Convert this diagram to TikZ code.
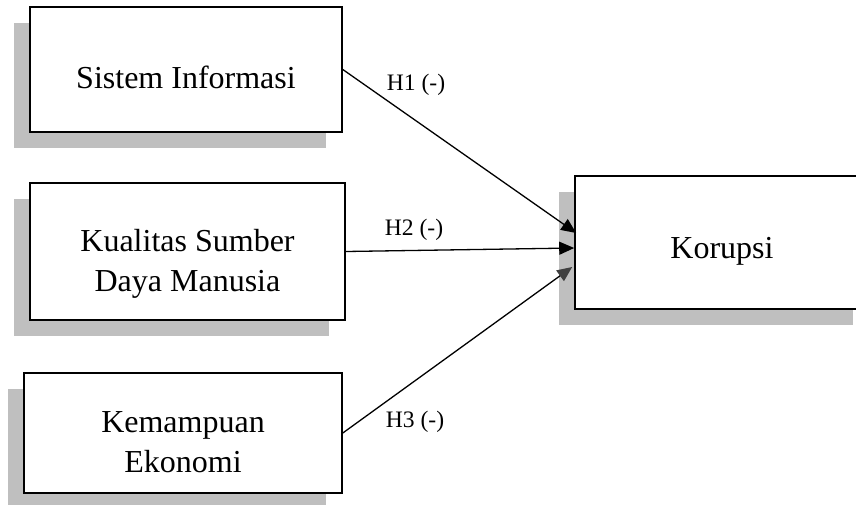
\documentclass[tikz,border=0pt]{standalone}
\usepackage{fontspec}
\setmainfont{Liberation Serif}
\usetikzlibrary{calc,arrows.meta,shadows}

\begin{document}
\begin{tikzpicture}[x=0.5pt,y=-0.5pt,
  var/.style={draw=black,line width=0.8pt,fill=white,inner sep=0pt,
    drop shadow={shadow xshift=-8pt,shadow yshift=-8pt,fill=black!25,opacity=1}},
  vartext/.style={align=center,font=\fontsize{16}{20}\selectfont,inner sep=0pt},
  hyp/.style={-{Triangle[length=7.5pt,width=6.5pt]},line width=0.65pt},
  lbl/.style={font=\fontsize{11.8}{14}\selectfont,inner sep=0pt}]

\useasboundingbox (0,0) rectangle (856,504);
\clip (0,0) rectangle (856,504);

% boxes
\node[var,minimum width=156pt,minimum height=62.5pt] (sisinfo) at (186,69.5) {};
\node[var,minimum width=157.5pt,minimum height=68.5pt] (sdm) at (187.5,251.5) {};
\node[var,minimum width=159pt,minimum height=60pt] (ekonomi) at (183,433) {};
\node[var,minimum width=147pt,minimum height=66.5pt] (korupsi) at (722,242.5) {};

% texts
\node[vartext] (sisinfo-t) at ($(sisinfo.center)+(0,8)$) {Sistem Informasi};
\node[vartext] (sdm-t) at ($(sdm.center)+(0,12)$) {Kualitas Sumber\\Daya Manusia};
\node[vartext] (ekonomi-t) at ($(ekonomi.center)+(0,9)$) {Kemampuan\\Ekonomi};
\node[vartext] (korupsi-t) at ($(korupsi.center)+(0,9)$) {Korupsi};

% hypotheses
\draw[hyp] (sisinfo.east) -- ($(korupsi.west)+(2,-9.5)$);
\draw[hyp] (sdm.east) -- ($(korupsi.west)+(0,5.5)$);
\draw[hyp,-{Triangle[length=7.5pt,width=6.5pt,color=black!75]}] (ekonomi.east) -- ($(korupsi.west)+(-2,24.5)$);

\node[lbl] (h1) at (416,85) {H1 (-)};
\node[lbl] (h2) at (414,230) {H2 (-)};
\node[lbl] (h3) at (415,422) {H3 (-)};
\end{tikzpicture}
\end{document}
